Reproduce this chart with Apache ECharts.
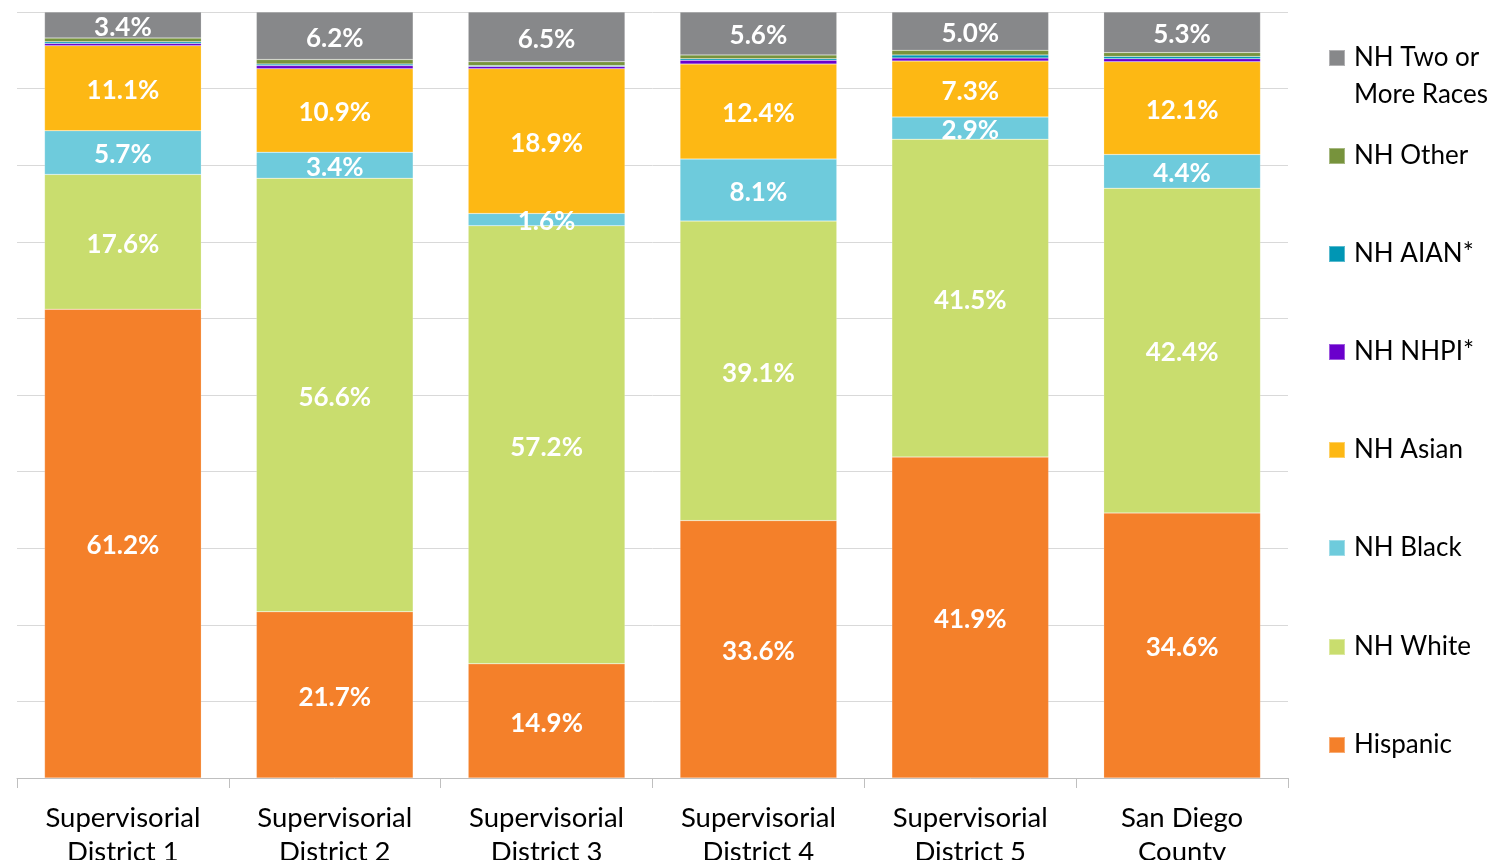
<!DOCTYPE html>
<html lang="en">
<head>
  <meta charset="UTF-8">
  <title>Population by District</title>
  <style>
    html, body { margin: 0; padding: 0; background: #fff; }
    #echart { width: 1495px; height: 860px; }
  </style>
</head>
<body>
  <div id="echart"></div>
  <script src="https://cdn.jsdelivr.net/npm/echarts@6/dist/echarts.min.js"></script>
  <script>
    // categories (bottom to top stacking order)
    var districts = ['Supervisorial\nDistrict 1', 'Supervisorial\nDistrict 2', 'Supervisorial\nDistrict 3',
      'Supervisorial\nDistrict 4', 'Supervisorial\nDistrict 5', 'San Diego\nCounty'];
    var hispanic = [61.2, 21.7, 14.9, 33.6, 41.9, 34.6];
    var nhWhite  = [17.6, 56.6, 57.2, 39.1, 41.5, 42.4];
    var nhBlack  = [5.7, 3.4, 1.6, 8.1, 2.9, 4.4];
    var nhAsian  = [11.1, 10.9, 18.9, 12.4, 7.3, 12.1];
    var nhNhpi   = [0.3, 0.4, 0.3, 0.5, 0.4, 0.4];
    var nhAian   = [0.2, 0.2, 0.1, 0.2, 0.4, 0.3];
    var nhOther  = [0.5, 0.6, 0.5, 0.5, 0.6, 0.5];
    var nhTwo    = [3.4, 6.2, 6.5, 5.6, 5.0, 5.3];

    var seriesDefs = [
      { name: 'Hispanic', data: hispanic, color: '#F4802A', label: true },
      { name: 'NH White', data: nhWhite, color: '#C9DD6E', label: true },
      { name: 'NH Black', data: nhBlack, color: '#6ECBDC', label: true },
      { name: 'NH Asian', data: nhAsian, color: '#FDB814', label: true },
      { name: 'NH NHPI*', data: nhNhpi, color: '#6A00CC', label: false },
      { name: 'NH AIAN*', data: nhAian, color: '#0096B4', label: false },
      { name: 'NH Other', data: nhOther, color: '#77933C', label: false },
      { name: 'NH Two or More Races', data: nhTwo, color: '#87888A', label: true }
    ];

    var font = 'Lato, "Open Sans", sans-serif';

    var series = seriesDefs.map(function (s) {
      return {
        name: s.name,
        type: 'bar',
        stack: 'total',
        barWidth: '74%',
        data: s.data,
        itemStyle: { color: s.color, borderColor: 'rgba(255,255,255,0.35)', borderWidth: 0.5 },
        label: {
          show: s.label,
          position: 'inside',
          offset: [0, 2.5],
          color: '#fff',
          fontFamily: font,
          fontWeight: 'bold',
          fontSize: 26,
          formatter: function (p) { return p.value.toFixed(1) + '%'; }
        }
      };
    });

    // legend, top to bottom, one block each so the spacing is even
    var legendOrder = ['NH Two or More Races', 'NH Other', 'NH AIAN*', 'NH NHPI*',
      'NH Asian', 'NH Black', 'NH White', 'Hispanic'];
    var legendCenters = [58, 156, 254, 352, 450, 548, 647, 745];
    var legends = legendOrder.map(function (name, i) {
      var first = i === 0;
      return {
        orient: 'vertical',
        left: 1328,
        top: first ? legendCenters[i] - 55.5 : legendCenters[i] - 18.5,
        padding: 0,
        icon: 'rect',
        itemWidth: 16,
        itemHeight: 16,
        itemGap: 0,
        selectedMode: false,
        data: [name],
        // blank first line keeps "NH Two or" level with the swatch
        formatter: first ? ' \nNH Two or\nMore Races' : '{name}',
        textStyle: {
          fontFamily: font,
          fontSize: 26,
          color: '#000',
          lineHeight: 37,
          padding: [0, 0, 0, 4]
        }
      };
    });

    var myChart = echarts.init(document.querySelector('#echart'));
    var option = {
      animation: false,
      grid: { left: 17, right: 207, top: 12, bottom: 82, containLabel: false, outerBoundsMode: 'none' },
      legend: legends,
      xAxis: {
        type: 'category',
        data: districts,
        axisLine: { lineStyle: { color: '#BFBFBF', width: 1 } },
        axisTick: { show: true, length: 10, lineStyle: { color: '#BFBFBF' } },
        axisLabel: {
          color: '#000',
          fontFamily: font,
          fontSize: 27.5,
          lineHeight: 34,
          margin: 23,
          interval: 0
        }
      },
      yAxis: {
        type: 'value',
        min: 0,
        max: 100,
        interval: 10,
        axisLabel: { show: false },
        axisLine: { show: false },
        axisTick: { show: false },
        splitLine: { lineStyle: { color: '#D9D9D9', width: 1 } }
      },
      series: series
    };
    myChart.setOption(option);
  </script>
</body>
</html>
